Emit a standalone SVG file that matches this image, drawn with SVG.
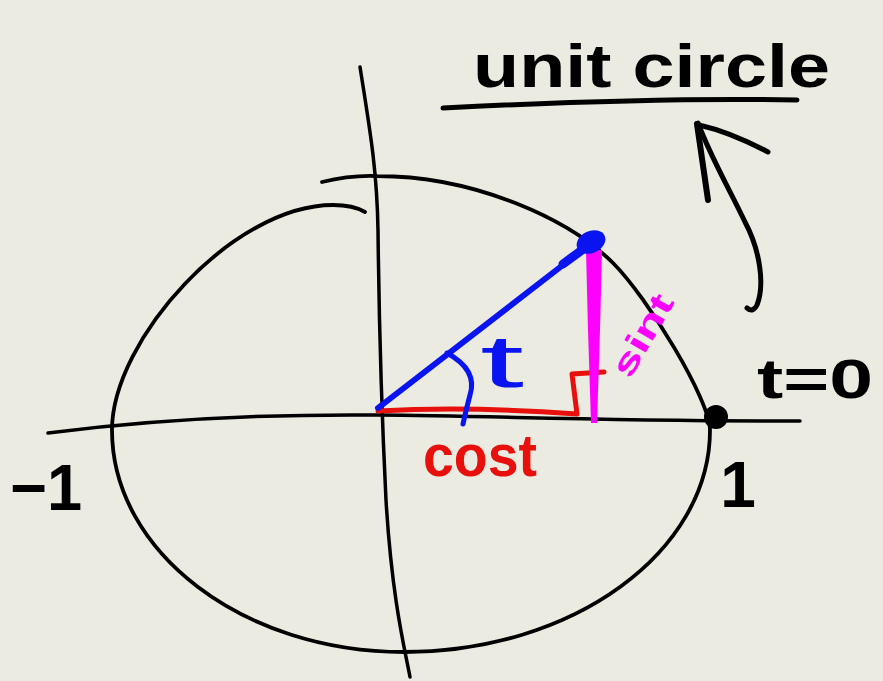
<svg xmlns="http://www.w3.org/2000/svg" width="883" height="681" viewBox="0 0 883 681">
<style>
.ink{fill:none;stroke:#000;stroke-linecap:round;stroke-linejoin:round}
.hw{font-family:"Liberation Sans","DejaVu Sans",sans-serif;font-weight:bold}
</style>
<rect width="883" height="681" fill="#ebebe2"/>
<g id="axes">
<path class="ink" stroke-width="3.5" d="M48,433 C150,420 260,414 377,415 C500,416 600,421 800,421"/>
<path class="ink" stroke-width="3.5" d="M360,67 C370,130 377,170 378,230 C379,320 381,400 386,500 C392,600 405,650 410,677"/>
</g>
<g id="circle">
<path class="ink" stroke-width="3.8" d="M322,182 Q350,175 377,176 C477,176 570.6,220.6 613,263 C648,298 710,400 710,430 C710,552 573,652 404,652 C243,652 112,552 112,430 C112,340 233,205 333,205 C350,205 360,209 365,212"/>
<circle cx="716" cy="417" r="12" fill="#000"/>
</g>
<g id="cos">
<path fill="none" stroke="#e8100c" stroke-width="5" stroke-linecap="round" stroke-linejoin="round" d="M378,411 Q470,406 577,414 L572,374 L604,372"/>
<text class="hw" x="423" y="476" font-size="60" fill="#e8100c" textLength="114" lengthAdjust="spacingAndGlyphs">cost</text>
</g>
<g id="sin">
<polygon fill="#ff00ff" points="586,250 602,250 600,330 597,423 591,423 588,330"/>
<text class="hw" transform="translate(630,380) rotate(-60)" font-size="34" fill="#ff00ff" textLength="90" lengthAdjust="spacingAndGlyphs">sint</text>
</g>
<g id="radius">
<path fill="none" stroke="#0a14f0" stroke-width="6" stroke-linecap="round" d="M378,408 L572,258"/>
<path fill="none" stroke="#0a14f0" stroke-width="9" stroke-linecap="round" d="M563,264 L582,250"/>
<ellipse cx="591" cy="242" rx="15" ry="11" transform="rotate(-25 591 242)" fill="#0a14f0"/>
<path fill="none" stroke="#0a14f0" stroke-width="5" stroke-linecap="round" d="M447,353 Q478,370 470,395 Q466,410 463,424"/>
<text x="480" y="387" font-family="Liberation Sans, DejaVu Sans, sans-serif" font-size="74" fill="#0a14f0" textLength="44" lengthAdjust="spacingAndGlyphs">t</text>
</g>
<g id="title">
<text class="hw" x="473" y="87" font-size="62" fill="#000" textLength="357" lengthAdjust="spacingAndGlyphs">unit circle</text>
<path class="ink" stroke-width="5" d="M443,108 C560,102 700,98 797,100"/>
</g>
<g id="arrow">
<path class="ink" stroke-width="5" d="M747,308 Q753,313 757,305 C765,285 760,250 745,222 C730,190 712,160 698,123"/>
<path class="ink" stroke-width="6" d="M697,124 L708,200"/>
<path class="ink" stroke-width="5" d="M699,125 Q730,132 768,152"/>
</g>
<g id="labels">
<text class="hw" x="757" y="398" font-size="56" fill="#000" textLength="116" lengthAdjust="spacingAndGlyphs">t=0</text>
<text class="hw" x="10" y="510" font-size="64" fill="#000" textLength="72" lengthAdjust="spacingAndGlyphs">−1</text>
<text class="hw" x="738" y="507" font-size="64" fill="#000" text-anchor="middle">1</text>
</g>
</svg>
